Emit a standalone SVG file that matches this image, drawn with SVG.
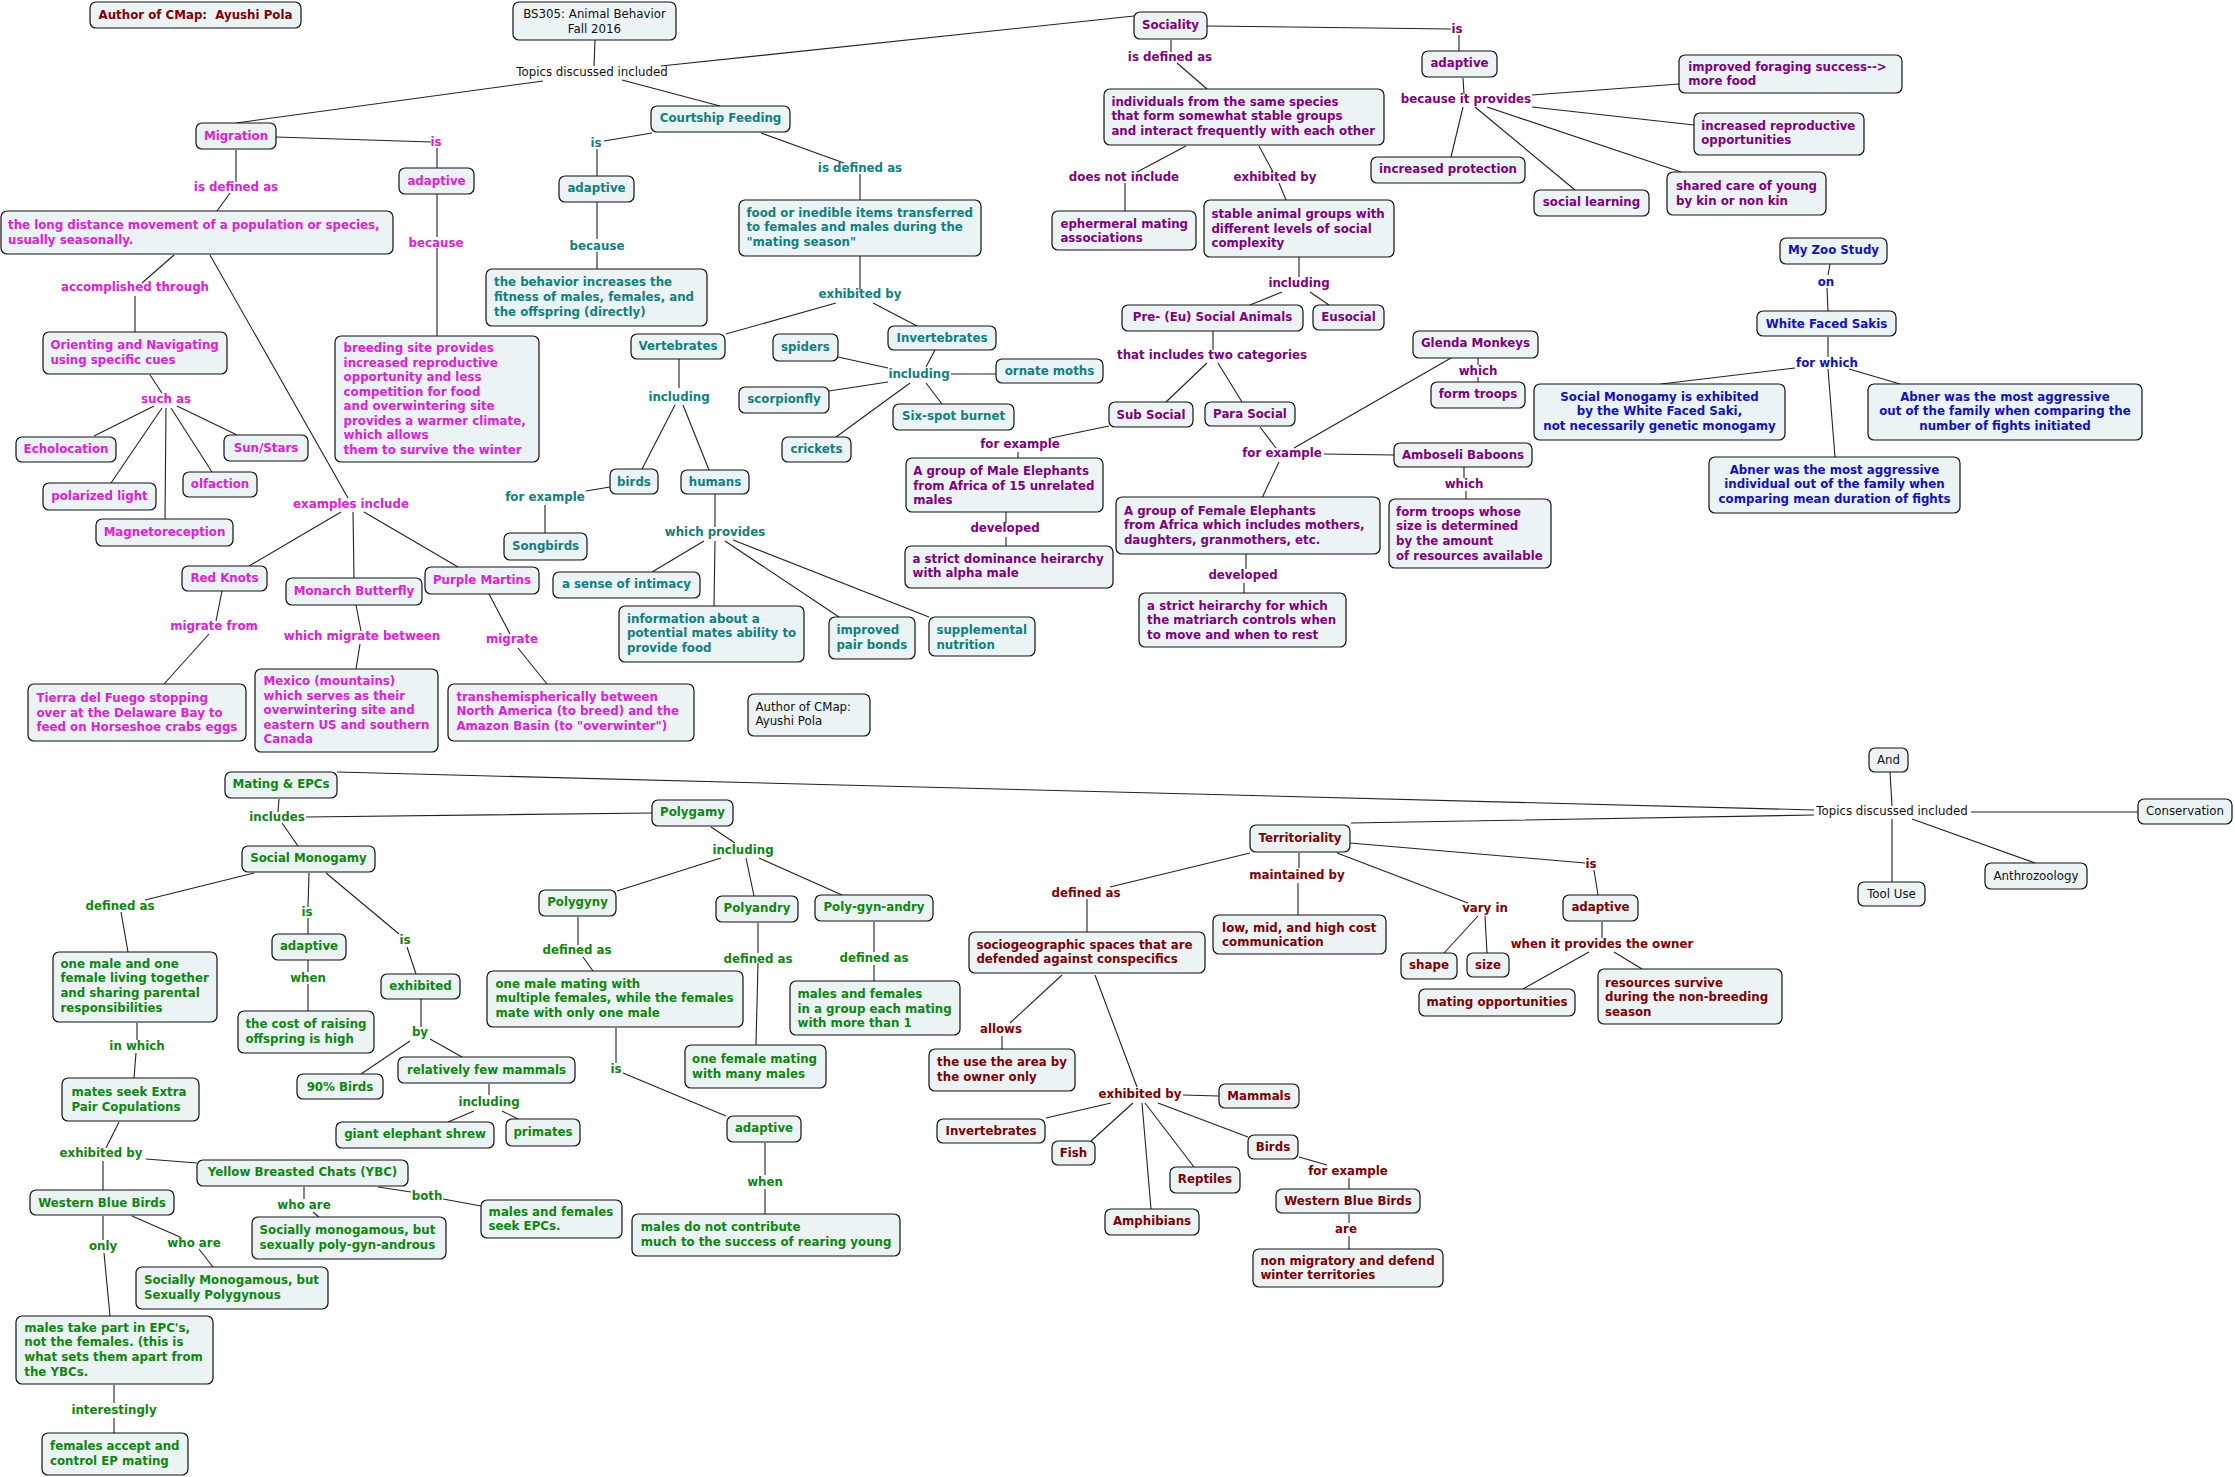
<svg xmlns="http://www.w3.org/2000/svg" width="2235" height="1477" viewBox="0 0 2235 1477">
<style>
text{font-family:"DejaVu Sans",Verdana,sans-serif;font-size:11.8px}
.n rect{fill:#ecf3f5;stroke:#111;stroke-width:1.2}
.b{font-weight:bold}
.c{text-anchor:middle}
.mg{fill:#e020d8}.tl{fill:#108080}.pu{fill:#800080}.bl{fill:#1010c8}.rd{fill:#800000}.gr{fill:#0d870d}.bk{fill:#111}
#connectors path{stroke:#222;stroke-width:1.1;fill:none}
</style>
<rect width="2235" height="1477" fill="#fff"/>
<g id="connectors">
<path d="M595 40L594 66M543 81L236 123M622 80L720 106M661 66L1134 16"/>
<path d="M276 137L431 142M437 148L437 168M437 194L437 237M437 248L437 336M236 150L236 182M230 193L217 211M174 255L142 283M135 296L135 332M210 255L348 498M150 375L162 393M154 406L94 436M162 408L111 483M166 408L165 519M171 408L212 472M177 406L237 435M341 512L249 566M353 512L354 578M364 512L458 567M222 591L216 621M209 634L164 684M356 605L361 631M360 644L356 669M489 594L510 634M518 648L547 684"/>
<path d="M652 133L604 141M597 149L597 176M597 202L597 239M597 252L597 269M761 133L844 163M860 174L860 200M860 256L860 290M836 303L726 334M873 303L917 326M679 359L679 388M675 405L642 469M683 405L709 470M610 487L586 491M545 505L545 533M715 494L715 527M704 541L652 572M715 541L714 606M725 541L839 617M733 540L929 617M935 350L926 367M888 368L838 357M951 374L996 374M888 382L829 391M910 383L836 437M926 383L942 404"/>
<path d="M1207 26L1451 29M1459 35L1459 51M1463 78L1464 94M1532 95L1679 84M1532 107L1694 125M1487 107L1681 172M1475 107L1575 190M1463 107L1451 157M1171 40L1171 52M1177 63L1207 89M1186 146L1137 172M1125 183L1125 211M1259 146L1273 172M1279 183L1286 200M1299 257L1299 277M1282 292L1250 305M1310 292L1329 305M1213 331L1213 350M1207 363L1166 402M1218 363L1242 402M1109 426L1051 438M1018 452L1018 458M1006 512L1006 523M1006 537L1006 546M1260 427L1276 448M1294 448L1451 358M1324 454L1394 455M1279 462L1262 498M1478 358L1478 365M1478 377L1478 382M1464 467L1464 478M1466 491L1466 499M1246 554L1246 569M1244 583L1244 593"/>
<path d="M1830 264L1828 275M1827 288L1828 311M1828 337L1828 357M1795 368L1661 384M1849 369L1900 384M1828 369L1835 457"/>
<path d="M1890 772L1892 806M1971 812L2138 812M1892 819L1892 882M1912 819L2035 863M1814 810L337 772M1814 815L1351 823"/>
<path d="M279 799L278 812M282 823L298 846M306 817L652 813M254 873L145 900M121 912L128 952M309 873L308 907M308 918L308 934M326 873L399 934M407 947L416 974M308 960L308 972M308 984L308 1011M137 1023L137 1040M136 1053L134 1078M119 1122L106 1148M146 1159L197 1163M103 1161L103 1190M421 999L421 1027M410 1041L361 1074M430 1039L462 1057M489 1084L489 1095M474 1111L448 1122M502 1111L518 1119M304 1187L304 1199M313 1212L319 1217M378 1187L411 1192M443 1199L481 1206M103 1216L103 1240M104 1253L110 1316M132 1216L180 1237M199 1249L213 1267M114 1385L114 1403M114 1418L114 1433M711 827L735 843M721 858L617 891M746 858L754 896M759 858L842 895M578 917L578 945M583 957L593 971M616 1028L616 1063M623 1073L726 1116M758 923L758 953M758 963L756 1045M874 922L874 952M874 965L874 981M765 1143L765 1175M765 1189L765 1214"/>
<path d="M1250 853L1110 887M1087 899L1087 932M1299 853L1299 868M1298 883L1298 915M1337 853L1468 903M1478 916L1444 953M1485 916L1487 953M1350 843L1585 863M1594 870L1598 895M1602 922L1602 938M1589 952L1523 989M1614 952L1642 969M1062 975L1010 1023M1002 1036L1002 1049M1095 975L1137 1087M1183 1095L1219 1096M1111 1103L1046 1118M1133 1103L1091 1141M1142 1103L1151 1209M1145 1103L1194 1167M1158 1103L1248 1137M1299 1157L1327 1165M1349 1178L1349 1189M1349 1214L1349 1223M1349 1236L1349 1249"/>
</g>
<g id="linking-phrases" class="b c">
<text class="bk" x="592" y="76" font-weight="normal">Topics discussed included</text>
<text class="bk" x="1892" y="815" font-weight="normal">Topics discussed included</text>
<text class="mg" x="436" y="146">is</text>
<text class="mg" x="236" y="191">is defined as</text>
<text class="mg" x="436" y="247">because</text>
<text class="mg" x="135" y="291">accomplished through</text>
<text class="mg" x="166" y="403">such as</text>
<text class="mg" x="351" y="508">examples include</text>
<text class="mg" x="214" y="630">migrate from</text>
<text class="mg" x="362" y="640">which migrate between</text>
<text class="mg" x="512" y="643">migrate</text>
<text class="tl" x="596" y="147">is</text>
<text class="tl" x="597" y="250">because</text>
<text class="tl" x="860" y="172">is defined as</text>
<text class="tl" x="860" y="298">exhibited by</text>
<text class="tl" x="679" y="401">including</text>
<text class="tl" x="545" y="501">for example</text>
<text class="tl" x="715" y="536">which provides</text>
<text class="tl" x="919" y="378">including</text>
<text class="pu" x="1457" y="33">is</text>
<text class="pu" x="1466" y="103">because it provides</text>
<text class="pu" x="1170" y="61">is defined as</text>
<text class="pu" x="1124" y="181">does not include</text>
<text class="pu" x="1275" y="181">exhibited by</text>
<text class="pu" x="1299" y="287">including</text>
<text class="pu" x="1212" y="359">that includes two categories</text>
<text class="pu" x="1020" y="448">for example</text>
<text class="pu" x="1005" y="532">developed</text>
<text class="pu" x="1282" y="457">for example</text>
<text class="pu" x="1478" y="375">which</text>
<text class="pu" x="1464" y="488">which</text>
<text class="pu" x="1243" y="579">developed</text>
<text class="bl" x="1826" y="286">on</text>
<text class="bl" x="1827" y="367">for which</text>
<text class="gr" x="277" y="821">includes</text>
<text class="gr" x="120" y="910">defined as</text>
<text class="gr" x="307" y="916">is</text>
<text class="gr" x="405" y="944">is</text>
<text class="gr" x="308" y="982">when</text>
<text class="gr" x="137" y="1050">in which</text>
<text class="gr" x="101" y="1157">exhibited by</text>
<text class="gr" x="420" y="1036">by</text>
<text class="gr" x="489" y="1106">including</text>
<text class="gr" x="304" y="1209">who are</text>
<text class="gr" x="427" y="1200">both</text>
<text class="gr" x="103" y="1250">only</text>
<text class="gr" x="194" y="1247">who are</text>
<text class="gr" x="114" y="1414">interestingly</text>
<text class="gr" x="743" y="854">including</text>
<text class="gr" x="577" y="954">defined as</text>
<text class="gr" x="616" y="1073">is</text>
<text class="gr" x="758" y="963">defined as</text>
<text class="gr" x="874" y="962">defined as</text>
<text class="gr" x="765" y="1186">when</text>
<text class="rd" x="1086" y="897">defined as</text>
<text class="rd" x="1297" y="879">maintained by</text>
<text class="rd" x="1485" y="912">vary in</text>
<text class="rd" x="1591" y="868">is</text>
<text class="rd" x="1602" y="948">when it provides the owner</text>
<text class="rd" x="1001" y="1033">allows</text>
<text class="rd" x="1140" y="1098">exhibited by</text>
<text class="rd" x="1348" y="1175">for example</text>
<text class="rd" x="1346" y="1233">are</text>
</g>
<g id="n-author-top" class="n"><rect x="90" y="2" width="211" height="26" rx="6"/><text class="b c rd" x="195.5" y="19">Author of CMap:&#160; Ayushi Pola</text></g>
<g id="n-bs305" class="n"><rect x="513" y="2" width="163" height="38" rx="6"/><text class="c bk" x="594.5" y="18">BS305: Animal Behavior</text><text class="c bk" x="594.5" y="32.5">Fall 2016</text></g>
<g id="n-migration" class="n"><rect x="196" y="123" width="80" height="26" rx="6"/><text class="b c mg" x="236" y="139.5">Migration</text></g>
<g id="n-mig-adaptive" class="n"><rect x="399" y="168" width="75" height="26" rx="6"/><text class="b c mg" x="436.5" y="185">adaptive</text></g>
<g id="n-breeding" class="n"><rect x="335" y="336" width="204" height="126" rx="6"/><text class="b mg"><tspan x="343.6" y="352">breeding site provides</tspan><tspan x="343.6" y="366.5">increased reproductive</tspan><tspan x="343.6" y="381">opportunity and less</tspan><tspan x="343.6" y="395.5">competition for food</tspan><tspan x="343.6" y="410">and overwintering site</tspan><tspan x="343.6" y="424.5">provides a warmer climate,</tspan><tspan x="343.6" y="439">which allows</tspan><tspan x="343.6" y="453.5">them to survive the winter</tspan></text></g>
<g id="n-longdist" class="n"><rect x="1" y="211" width="392" height="43" rx="6"/><text class="b mg"><tspan x="8" y="229">the long distance movement of a population or species,</tspan><tspan x="8" y="243.7">usually seasonally.</tspan></text></g>
<g id="n-orienting" class="n"><rect x="43" y="332" width="184" height="42" rx="6"/><text class="b mg"><tspan x="50.4" y="349">Orienting and Navigating</tspan><tspan x="50.4" y="363.7">using specific cues</tspan></text></g>
<g id="n-echolocation" class="n"><rect x="16" y="437" width="100" height="25" rx="6"/><text class="b c mg" x="66" y="453">Echolocation</text></g>
<g id="n-sunstars" class="n"><rect x="224" y="435" width="84" height="26" rx="6"/><text class="b c mg" x="266" y="452">Sun/Stars</text></g>
<g id="n-olfaction" class="n"><rect x="183" y="472" width="74" height="25" rx="6"/><text class="b c mg" x="220" y="488">olfaction</text></g>
<g id="n-polarized" class="n"><rect x="43" y="483" width="113" height="27" rx="6"/><text class="b c mg" x="99.5" y="500">polarized light</text></g>
<g id="n-magneto" class="n"><rect x="96" y="519" width="137" height="27" rx="6"/><text class="b c mg" x="164.5" y="536">Magnetoreception</text></g>
<g id="n-redknots" class="n"><rect x="182" y="566" width="85" height="25" rx="6"/><text class="b c mg" x="224.5" y="582">Red Knots</text></g>
<g id="n-monarch" class="n"><rect x="286" y="578" width="136" height="27" rx="6"/><text class="b c mg" x="354" y="595">Monarch Butterfly</text></g>
<g id="n-purplemartins" class="n"><rect x="425" y="567" width="114" height="27" rx="6"/><text class="b c mg" x="482" y="584">Purple Martins</text></g>
<g id="n-tierra" class="n"><rect x="28" y="684" width="218" height="57" rx="6"/><text class="b mg"><tspan x="36.4" y="702">Tierra del Fuego stopping</tspan><tspan x="36.4" y="716.7">over at the Delaware Bay to</tspan><tspan x="36.4" y="731.3">feed on Horseshoe crabs eggs</tspan></text></g>
<g id="n-mexico" class="n"><rect x="255" y="669" width="183" height="83" rx="6"/><text class="b mg"><tspan x="263.6" y="685">Mexico (mountains)</tspan><tspan x="263.6" y="699.7">which serves as their</tspan><tspan x="263.6" y="714">overwintering site and</tspan><tspan x="263.6" y="728.7">eastern US and southern</tspan><tspan x="263.6" y="743.3">Canada</tspan></text></g>
<g id="n-transhem" class="n"><rect x="448" y="684" width="246" height="57" rx="6"/><text class="b mg"><tspan x="456.4" y="700.7">transhemispherically between</tspan><tspan x="456.4" y="715.3">North America (to breed) and the</tspan><tspan x="456.4" y="730">Amazon Basin (to "overwinter")</tspan></text></g>
<g id="n-courtship" class="n"><rect x="651" y="106" width="139" height="26" rx="6"/><text class="b c tl" x="720.5" y="122">Courtship Feeding</text></g>
<g id="n-cf-adaptive" class="n"><rect x="559" y="176" width="75" height="26" rx="6"/><text class="b c tl" x="596.5" y="192">adaptive</text></g>
<g id="n-behavior" class="n"><rect x="486" y="269" width="221" height="57" rx="6"/><text class="b tl"><tspan x="494" y="286.3">the behavior increases the</tspan><tspan x="494" y="301">fitness of males, females, and</tspan><tspan x="494" y="315.7">the offspring (directly)</tspan></text></g>
<g id="n-food" class="n"><rect x="739" y="200" width="242" height="56" rx="6"/><text class="b tl"><tspan x="746.4" y="216.7">food or inedible items transferred</tspan><tspan x="746.4" y="231.3">to females and males during the</tspan><tspan x="746.4" y="245.7">"mating season"</tspan></text></g>
<g id="n-vertebrates" class="n"><rect x="631" y="334" width="94" height="25" rx="6"/><text class="b c tl" x="678" y="350">Vertebrates</text></g>
<g id="n-birds-tl" class="n"><rect x="610" y="469" width="48" height="25" rx="6"/><text class="b c tl" x="634" y="485.7">birds</text></g>
<g id="n-humans" class="n"><rect x="681" y="470" width="68" height="24" rx="6"/><text class="b c tl" x="715" y="485.7">humans</text></g>
<g id="n-songbirds" class="n"><rect x="504" y="533" width="83" height="27" rx="6"/><text class="b c tl" x="545.5" y="550">Songbirds</text></g>
<g id="n-intimacy" class="n"><rect x="553" y="572" width="147" height="26" rx="6"/><text class="b c tl" x="626.5" y="588.3">a sense of intimacy</text></g>
<g id="n-information" class="n"><rect x="619" y="606" width="185" height="56" rx="6"/><text class="b tl"><tspan x="627" y="622.7">information about a</tspan><tspan x="627" y="637.3">potential mates ability to</tspan><tspan x="627" y="651.7">provide food</tspan></text></g>
<g id="n-pairbonds" class="n"><rect x="829" y="617" width="86" height="42" rx="6"/><text class="b tl"><tspan x="836.4" y="634">improved</tspan><tspan x="836.4" y="648.7">pair bonds</tspan></text></g>
<g id="n-supplemental" class="n"><rect x="929" y="617" width="106" height="39" rx="6"/><text class="b tl"><tspan x="936.4" y="634">supplemental</tspan><tspan x="936.4" y="648.7">nutrition</tspan></text></g>
<g id="n-author2" class="n"><rect x="748" y="694" width="122" height="42" rx="6"/><text class="bk"><tspan x="755.4" y="710.7">Author of CMap:</tspan><tspan x="755.4" y="725.3">Ayushi Pola</tspan></text></g>
<g id="n-invertebrates-tl" class="n"><rect x="888" y="326" width="108" height="24" rx="6"/><text class="b c tl" x="942" y="342">Invertebrates</text></g>
<g id="n-spiders" class="n"><rect x="773" y="334" width="65" height="27" rx="6"/><text class="b c tl" x="805.5" y="351">spiders</text></g>
<g id="n-ornatemoths" class="n"><rect x="996" y="359" width="107" height="24" rx="6"/><text class="b c tl" x="1049.5" y="375">ornate moths</text></g>
<g id="n-scorpionfly" class="n"><rect x="739" y="387" width="90" height="26" rx="6"/><text class="b c tl" x="784" y="403">scorpionfly</text></g>
<g id="n-sixspot" class="n"><rect x="893" y="404" width="121" height="26" rx="6"/><text class="b c tl" x="953.5" y="420">Six-spot burnet</text></g>
<g id="n-crickets" class="n"><rect x="782" y="437" width="69" height="25" rx="6"/><text class="b c tl" x="816.5" y="453">crickets</text></g>
<g id="n-sociality" class="n"><rect x="1134" y="12" width="73" height="27" rx="6"/><text class="b c pu" x="1170.5" y="29">Sociality</text></g>
<g id="n-soc-adaptive" class="n"><rect x="1422" y="51" width="75" height="26" rx="6"/><text class="b c pu" x="1459.5" y="67.3">adaptive</text></g>
<g id="n-foraging" class="n"><rect x="1679" y="55" width="223" height="38" rx="6"/><text class="b pu"><tspan x="1688.2" y="71">improved foraging success--&gt;</tspan><tspan x="1688.2" y="85.4">more food</tspan></text></g>
<g id="n-increpro" class="n"><rect x="1694" y="113" width="170" height="42" rx="6"/><text class="b pu"><tspan x="1701.2" y="130">increased reproductive</tspan><tspan x="1701.2" y="144.3">opportunities</tspan></text></g>
<g id="n-sharedcare" class="n"><rect x="1667" y="172" width="159" height="43" rx="6"/><text class="b pu"><tspan x="1676" y="190.2">shared care of young</tspan><tspan x="1676" y="204.6">by kin or non kin</tspan></text></g>
<g id="n-sociallearning" class="n"><rect x="1534" y="190" width="115" height="26" rx="6"/><text class="b c pu" x="1591.5" y="206">social learning</text></g>
<g id="n-protection" class="n"><rect x="1371" y="157" width="154" height="26" rx="6"/><text class="b c pu" x="1448" y="173">increased protection</text></g>
<g id="n-individuals" class="n"><rect x="1104" y="89" width="280" height="56" rx="6"/><text class="b pu"><tspan x="1111.4" y="105.7">individuals from the same species</tspan><tspan x="1111.4" y="120.3">that form somewhat stable groups</tspan><tspan x="1111.4" y="135">and interact frequently with each other</tspan></text></g>
<g id="n-ephemeral" class="n"><rect x="1052" y="211" width="144" height="39" rx="6"/><text class="b pu"><tspan x="1060.4" y="227.7">ephermeral mating</tspan><tspan x="1060.4" y="242.3">associations</tspan></text></g>
<g id="n-stable" class="n"><rect x="1204" y="200" width="190" height="57" rx="6"/><text class="b pu"><tspan x="1211.4" y="217.7">stable animal groups with</tspan><tspan x="1211.4" y="232.7">different levels of social</tspan><tspan x="1211.4" y="247">complexity</tspan></text></g>
<g id="n-presocial" class="n"><rect x="1122" y="305" width="181" height="26" rx="6"/><text class="b c pu" x="1212.5" y="321">Pre- (Eu) Social Animals</text></g>
<g id="n-eusocial" class="n"><rect x="1313" y="305" width="71" height="25" rx="6"/><text class="b c pu" x="1348.5" y="321">Eusocial</text></g>
<g id="n-subsocial" class="n"><rect x="1109" y="402" width="84" height="25" rx="6"/><text class="b c pu" x="1151" y="418.7">Sub Social</text></g>
<g id="n-parasocial" class="n"><rect x="1205" y="402" width="90" height="24" rx="6"/><text class="b c pu" x="1250" y="418">Para Social</text></g>
<g id="n-maleelephants" class="n"><rect x="906" y="458" width="197" height="54" rx="6"/><text class="b pu"><tspan x="913.2" y="475">A group of Male Elephants</tspan><tspan x="913.2" y="489.7">from Africa of 15 unrelated</tspan><tspan x="913.2" y="504">males</tspan></text></g>
<g id="n-dominance" class="n"><rect x="905" y="546" width="208" height="42" rx="6"/><text class="b pu"><tspan x="912.5" y="563">a strict dominance heirarchy</tspan><tspan x="912.5" y="577.3">with alpha male</tspan></text></g>
<g id="n-glenda" class="n"><rect x="1413" y="331" width="125" height="27" rx="6"/><text class="b c pu" x="1475.5" y="347.3">Glenda Monkeys</text></g>
<g id="n-formtroops" class="n"><rect x="1431" y="382" width="94" height="26" rx="6"/><text class="b c pu" x="1478" y="398">form troops</text></g>
<g id="n-amboseli" class="n"><rect x="1394" y="443" width="138" height="24" rx="6"/><text class="b c pu" x="1463" y="458.7">Amboseli Baboons</text></g>
<g id="n-troopswhose" class="n"><rect x="1389" y="499" width="162" height="69" rx="6"/><text class="b pu"><tspan x="1396" y="516">form troops whose</tspan><tspan x="1396" y="530.3">size is determined</tspan><tspan x="1396" y="545">by the amount</tspan><tspan x="1396" y="559.7">of resources available</tspan></text></g>
<g id="n-femaleelephants" class="n"><rect x="1116" y="497" width="264" height="57" rx="6"/><text class="b pu"><tspan x="1123.9" y="514.7">A group of Female Elephants</tspan><tspan x="1123.9" y="529.3">from Africa which includes mothers,</tspan><tspan x="1123.9" y="544">daughters, granmothers, etc.</tspan></text></g>
<g id="n-matriarch" class="n"><rect x="1139" y="593" width="207" height="54" rx="6"/><text class="b pu"><tspan x="1147.1" y="610">a strict heirarchy for which</tspan><tspan x="1147.1" y="624.3">the matriarch controls when</tspan><tspan x="1147.1" y="639">to move and when to rest</tspan></text></g>
<g id="n-zoo" class="n"><rect x="1780" y="238" width="107" height="26" rx="6"/><text class="b c bl" x="1833.5" y="254">My Zoo Study</text></g>
<g id="n-sakis" class="n"><rect x="1757" y="311" width="139" height="25" rx="6"/><text class="b c bl" x="1826.5" y="327.7">White Faced Sakis</text></g>
<g id="n-socmono-saki" class="n"><rect x="1534" y="384" width="251" height="56" rx="6"/><text class="b c bl"><tspan x="1659.5" y="400.7">Social Monogamy is exhibited</tspan><tspan x="1659.5" y="415.1">by the White Faced Saki,</tspan><tspan x="1659.5" y="430.2">not necessarily genetic monogamy</tspan></text></g>
<g id="n-abner1" class="n"><rect x="1868" y="384" width="274" height="56" rx="6"/><text class="b c bl"><tspan x="2005" y="400.7">Abner was the most aggressive</tspan><tspan x="2005" y="415.1">out of the family when comparing the</tspan><tspan x="2005" y="430.2">number of fights initiated</tspan></text></g>
<g id="n-abner2" class="n"><rect x="1709" y="457" width="251" height="56" rx="6"/><text class="b c bl"><tspan x="1834.5" y="473.7">Abner was the most aggressive</tspan><tspan x="1834.5" y="488.4">individual out of the family when</tspan><tspan x="1834.5" y="503.1">comparing mean duration of fights</tspan></text></g>
<g id="n-and" class="n"><rect x="1869" y="748" width="39" height="24" rx="6"/><text class="c bk" x="1888.5" y="764">And</text></g>
<g id="n-conservation" class="n"><rect x="2138" y="799" width="94" height="25" rx="6"/><text class="c bk" x="2185" y="815">Conservation</text></g>
<g id="n-tooluse" class="n"><rect x="1858" y="882" width="67" height="24" rx="6"/><text class="c bk" x="1891.5" y="898">Tool Use</text></g>
<g id="n-anthrozoology" class="n"><rect x="1985" y="863" width="102" height="26" rx="6"/><text class="c bk" x="2036" y="880">Anthrozoology</text></g>
<g id="n-mating" class="n"><rect x="225" y="772" width="112" height="26" rx="6"/><text class="b c gr" x="281" y="788">Mating &amp; EPCs</text></g>
<g id="n-socmono" class="n"><rect x="242" y="846" width="133" height="26" rx="6"/><text class="b c gr" x="308.5" y="862">Social Monogamy</text></g>
<g id="n-sm-adaptive" class="n"><rect x="272" y="934" width="74" height="26" rx="6"/><text class="b c gr" x="309" y="950">adaptive</text></g>
<g id="n-cost" class="n"><rect x="238" y="1011" width="136" height="42" rx="6"/><text class="b gr"><tspan x="245.4" y="1028">the cost of raising</tspan><tspan x="245.4" y="1042.7">offspring is high</tspan></text></g>
<g id="n-onemaleone" class="n"><rect x="53" y="952" width="164" height="70" rx="6"/><text class="b gr"><tspan x="60.4" y="968">one male and one</tspan><tspan x="60.4" y="982.3">female living together</tspan><tspan x="60.4" y="997">and sharing parental</tspan><tspan x="60.4" y="1011.7">responsibilities</tspan></text></g>
<g id="n-matesseek" class="n"><rect x="62" y="1078" width="137" height="43" rx="6"/><text class="b gr"><tspan x="71.4" y="1096">mates seek Extra</tspan><tspan x="71.4" y="1110.7">Pair Copulations</tspan></text></g>
<g id="n-exhibited" class="n"><rect x="381" y="974" width="79" height="25" rx="6"/><text class="b c gr" x="420.5" y="990">exhibited</text></g>
<g id="n-90birds" class="n"><rect x="297" y="1074" width="86" height="25" rx="6"/><text class="b c gr" x="340" y="1091">90% Birds</text></g>
<g id="n-fewmammals" class="n"><rect x="398" y="1057" width="177" height="26" rx="6"/><text class="b c gr" x="486.5" y="1073.7">relatively few mammals</text></g>
<g id="n-shrew" class="n"><rect x="336" y="1122" width="158" height="26" rx="6"/><text class="b c gr" x="415" y="1138">giant elephant shrew</text></g>
<g id="n-primates" class="n"><rect x="506" y="1119" width="74" height="27" rx="6"/><text class="b c gr" x="543" y="1136">primates</text></g>
<g id="n-ybc" class="n"><rect x="197" y="1160" width="211" height="26" rx="6"/><text class="b c gr" x="302.5" y="1176">Yellow Breasted Chats (YBC)</text></g>
<g id="n-polygynandrous" class="n"><rect x="252" y="1217" width="194" height="42" rx="6"/><text class="b gr"><tspan x="259.6" y="1234">Socially monogamous, but</tspan><tspan x="259.6" y="1248.7">sexually poly-gyn-androus</tspan></text></g>
<g id="n-seekepcs" class="n"><rect x="481" y="1200" width="141" height="38" rx="6"/><text class="b gr"><tspan x="488.6" y="1216">males and females</tspan><tspan x="488.6" y="1230.3">seek EPCs.</tspan></text></g>
<g id="n-wbb-gr" class="n"><rect x="30" y="1190" width="144" height="25" rx="6"/><text class="b c gr" x="102" y="1207">Western Blue Birds</text></g>
<g id="n-polygynous" class="n"><rect x="136" y="1267" width="192" height="42" rx="6"/><text class="b gr"><tspan x="143.9" y="1284">Socially Monogamous, but</tspan><tspan x="143.9" y="1298.7">Sexually Polygynous</tspan></text></g>
<g id="n-malestake" class="n"><rect x="16" y="1316" width="197" height="68" rx="6"/><text class="b gr"><tspan x="24.3" y="1332">males take part in EPC's,</tspan><tspan x="24.3" y="1346.3">not the females. (this is</tspan><tspan x="24.3" y="1361">what sets them apart from</tspan><tspan x="24.3" y="1375.7">the YBCs.</tspan></text></g>
<g id="n-femalesaccept" class="n"><rect x="42" y="1433" width="146" height="42" rx="6"/><text class="b gr"><tspan x="50" y="1450">females accept and</tspan><tspan x="50" y="1464.7">control EP mating</tspan></text></g>
<g id="n-polygamy" class="n"><rect x="652" y="800" width="81" height="26" rx="6"/><text class="b c gr" x="692.5" y="816">Polygamy</text></g>
<g id="n-polygyny" class="n"><rect x="539" y="890" width="77" height="26" rx="6"/><text class="b c gr" x="577.5" y="906">Polygyny</text></g>
<g id="n-onemalemating" class="n"><rect x="487" y="971" width="256" height="56" rx="6"/><text class="b gr"><tspan x="495.4" y="988">one male mating with</tspan><tspan x="495.4" y="1002.3">multiple females, while the females</tspan><tspan x="495.4" y="1017">mate with only one male</tspan></text></g>
<g id="n-polyandry" class="n"><rect x="716" y="896" width="82" height="26" rx="6"/><text class="b c gr" x="757" y="912">Polyandry</text></g>
<g id="n-onefemale" class="n"><rect x="685" y="1045" width="141" height="43" rx="6"/><text class="b gr"><tspan x="692.1" y="1063">one female mating</tspan><tspan x="692.1" y="1077.7">with many males</tspan></text></g>
<g id="n-polygynandry" class="n"><rect x="815" y="895" width="118" height="26" rx="6"/><text class="b c gr" x="874" y="911">Poly-gyn-andry</text></g>
<g id="n-group" class="n"><rect x="790" y="981" width="170" height="54" rx="6"/><text class="b gr"><tspan x="797.5" y="997.7">males and females</tspan><tspan x="797.5" y="1012.7">in a group each mating</tspan><tspan x="797.5" y="1027.3">with more than 1</tspan></text></g>
<g id="n-pg-adaptive" class="n"><rect x="727" y="1116" width="74" height="26" rx="6"/><text class="b c gr" x="764" y="1132">adaptive</text></g>
<g id="n-donotcontribute" class="n"><rect x="632" y="1214" width="268" height="42" rx="6"/><text class="b gr"><tspan x="640.7" y="1231">males do not contribute</tspan><tspan x="640.7" y="1245.7">much to the success of rearing young</tspan></text></g>
<g id="n-territoriality" class="n"><rect x="1250" y="825" width="100" height="27" rx="6"/><text class="b c rd" x="1300" y="842">Territoriality</text></g>
<g id="n-socio" class="n"><rect x="969" y="932" width="236" height="41" rx="6"/><text class="b rd"><tspan x="976.4" y="949">sociogeographic spaces that are</tspan><tspan x="976.4" y="963.3">defended against conspecifics</tspan></text></g>
<g id="n-lowmid" class="n"><rect x="1213" y="915" width="173" height="39" rx="6"/><text class="b rd"><tspan x="1222.1" y="931.7">low, mid, and high cost</tspan><tspan x="1222.1" y="946.3">communication</tspan></text></g>
<g id="n-shape" class="n"><rect x="1401" y="953" width="56" height="26" rx="6"/><text class="b c rd" x="1429" y="969">shape</text></g>
<g id="n-size" class="n"><rect x="1467" y="953" width="42" height="24" rx="6"/><text class="b c rd" x="1488" y="969">size</text></g>
<g id="n-t-adaptive" class="n"><rect x="1563" y="895" width="75" height="26" rx="6"/><text class="b c rd" x="1600.5" y="911">adaptive</text></g>
<g id="n-matingopp" class="n"><rect x="1419" y="989" width="156" height="27" rx="6"/><text class="b c rd" x="1497" y="1006">mating opportunities</text></g>
<g id="n-resources" class="n"><rect x="1598" y="969" width="184" height="55" rx="6"/><text class="b rd"><tspan x="1605" y="987.3">resources survive</tspan><tspan x="1605" y="1001.3">during the non-breeding</tspan><tspan x="1605" y="1016.3">season</tspan></text></g>
<g id="n-usearea" class="n"><rect x="929" y="1049" width="146" height="42" rx="6"/><text class="b rd"><tspan x="937.1" y="1066">the use the area by</tspan><tspan x="937.1" y="1080.7">the owner only</tspan></text></g>
<g id="n-invertebrates-rd" class="n"><rect x="937" y="1119" width="108" height="24" rx="6"/><text class="b c rd" x="991" y="1135">Invertebrates</text></g>
<g id="n-fish" class="n"><rect x="1052" y="1141" width="43" height="24" rx="6"/><text class="b c rd" x="1073.5" y="1156.7">Fish</text></g>
<g id="n-mammals" class="n"><rect x="1219" y="1084" width="80" height="24" rx="6"/><text class="b c rd" x="1259" y="1100">Mammals</text></g>
<g id="n-birds-rd" class="n"><rect x="1248" y="1135" width="50" height="24" rx="6"/><text class="b c rd" x="1273" y="1151">Birds</text></g>
<g id="n-reptiles" class="n"><rect x="1170" y="1167" width="70" height="26" rx="6"/><text class="b c rd" x="1205" y="1183">Reptiles</text></g>
<g id="n-amphibians" class="n"><rect x="1105" y="1209" width="94" height="26" rx="6"/><text class="b c rd" x="1152" y="1225">Amphibians</text></g>
<g id="n-wbb-rd" class="n"><rect x="1276" y="1189" width="144" height="24" rx="6"/><text class="b c rd" x="1348" y="1205">Western Blue Birds</text></g>
<g id="n-nonmigratory" class="n"><rect x="1253" y="1249" width="190" height="38" rx="6"/><text class="b rd"><tspan x="1260.4" y="1265">non migratory and defend</tspan><tspan x="1260.4" y="1279.3">winter territories</tspan></text></g>
</svg>
